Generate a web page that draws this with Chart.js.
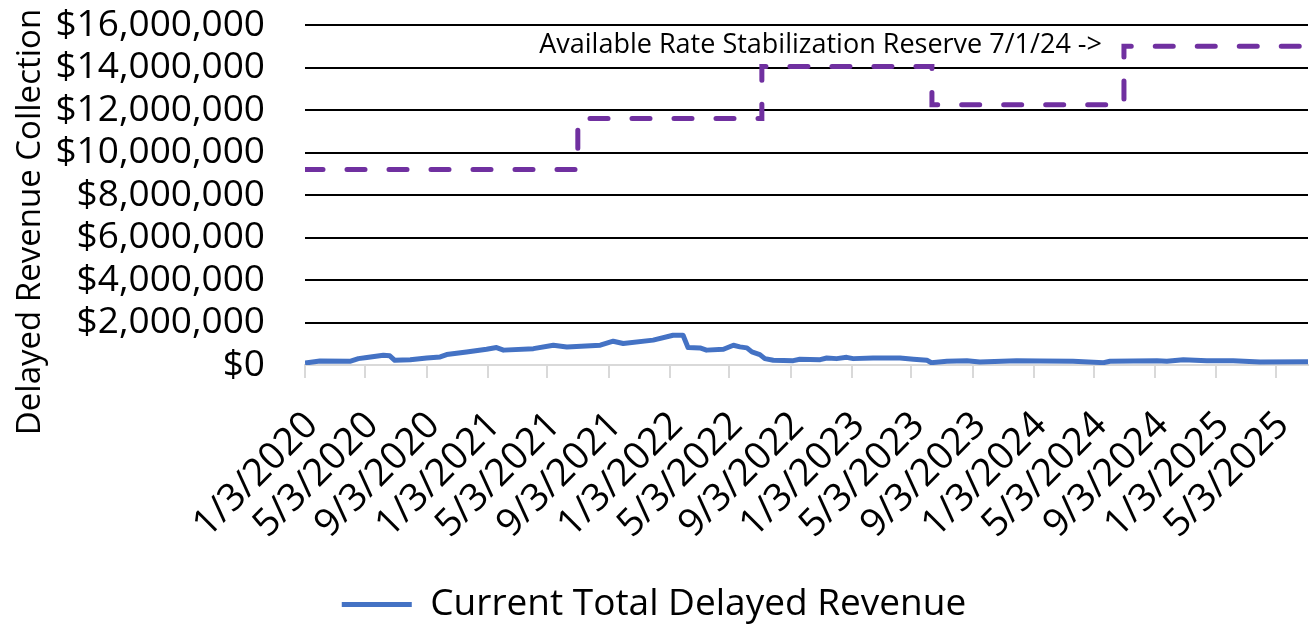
<!DOCTYPE html>
<html>
<head>
<meta charset="utf-8">
<title>Delayed Revenue Collection</title>
<script src="https://cdn.jsdelivr.net/npm/chart.js@4.4.1/dist/chart.umd.min.js"></script>
<style>
  html, body { margin: 0; padding: 0; background: #fff; }
  #wrap { width: 1315px; height: 624px; }
</style>
</head>
<body>
<div id="wrap"><canvas id="chart"></canvas></div>
<script>
// Werte (geschätzt)
const revenueDates = [
  '2020-01-03', '2020-02-02', '2020-04-02', '2020-04-19', '2020-05-06', '2020-06-08',
  '2020-06-21', '2020-07-01', '2020-08-01', '2020-09-03', '2020-09-30', '2020-10-13',
  '2020-11-22', '2021-01-01', '2021-01-21', '2021-02-04', '2021-04-05', '2021-05-15',
  '2021-06-11', '2021-08-17', '2021-09-12', '2021-10-02', '2021-12-01', '2022-01-10',
  '2022-01-30', '2022-02-09', '2022-03-05', '2022-03-18', '2022-04-21', '2022-05-11',
  '2022-05-24', '2022-06-07', '2022-06-17', '2022-07-03', '2022-07-13', '2022-07-30',
  '2022-09-08', '2022-09-21', '2022-11-01', '2022-11-14', '2022-12-04', '2022-12-24',
  '2023-01-06', '2023-02-15', '2023-04-10', '2023-05-07', '2023-06-03', '2023-06-12',
  '2023-07-13', '2023-08-22', '2023-09-17', '2023-11-30', '2024-01-16', '2024-03-22',
  '2024-05-22', '2024-06-04', '2024-09-06', '2024-09-26', '2024-10-29', '2024-12-15',
  '2025-02-06', '2025-04-01', '2025-07-06'
];
const revenueValues = [
  90000, 190000, 175000, 300000, 355000, 460000,
  430000, 220000, 250000, 330000, 380000, 490000,
  615000, 740000, 820000, 700000, 770000, 930000,
  850000, 930000, 1120000, 1010000, 1170000, 1400000,
  1400000, 820000, 805000, 700000, 740000, 930000,
  852000, 805000, 615000, 490000, 300000, 220000,
  205000, 270000, 250000, 330000, 300000, 360000,
  300000, 330000, 330000, 270000, 220000, 110000,
  175000, 205000, 140000, 205000, 190000, 175000,
  110000, 175000, 205000, 175000, 250000, 205000,
  205000, 140000, 150000
];

// Rücklage: Datum der Änderung und neuer Stand
const reserveDates = ['2020-01-03', '2021-07-03', '2022-07-07', '2023-06-13', '2024-07-02', '2025-07-06'];
const reserveValues = [9200000, 11600000, 14050000, 12250000, 15000000, 15000000];

const tickDates = [
  '2020-01-03', '2020-05-03', '2020-09-03', '2021-01-03', '2021-05-03', '2021-09-03',
  '2022-01-03', '2022-05-03', '2022-09-03', '2023-01-03', '2023-05-03', '2023-09-03',
  '2024-01-03', '2024-05-03', '2024-09-03', '2025-01-03', '2025-05-03'
];
const tickLabels = [
  '1/3/2020', '5/3/2020', '9/3/2020', '1/3/2021', '5/3/2021', '9/3/2021',
  '1/3/2022', '5/3/2022', '9/3/2022', '1/3/2023', '5/3/2023', '9/3/2023',
  '1/3/2024', '5/3/2024', '9/3/2024', '1/3/2025', '5/3/2025'
];

const reserveNote = 'Available Rate Stabilization Reserve 7/1/24 ->';
const yTitle = 'Delayed Revenue Collection';
const FONT = '"Open Sans", "Liberation Sans", sans-serif';

const START = Date.UTC(2020, 0, 3);
function dayOf(s) {
  const [y, m, d] = s.split('-').map(Number);
  return (Date.UTC(y, m - 1, d) - START) / 86400000;
}

const tickDays = tickDates.map(dayOf);

// Beschriftung + Achsentitel selbst zeichnen
const notePlugin = {
  id: 'note',
  afterDraw(chart) {
    const { ctx, scales: { x, y } } = chart;
    ctx.save();
    ctx.fillStyle = '#000';
    ctx.font = '27px ' + FONT;
    ctx.textAlign = 'right';
    ctx.textBaseline = 'middle';
    ctx.fillText(reserveNote, x.getPixelForValue(dayOf(reserveDates[4])) - 22, y.getPixelForValue(15000000) - 1);

    ctx.font = '33px ' + FONT;
    ctx.textAlign = 'center';
    ctx.translate(31, 222);
    ctx.rotate(-Math.PI / 2);
    ctx.fillText(yTitle, 0, 0);
    ctx.restore();
  }
};

const ctx = document.getElementById('chart').getContext('2d');
new Chart(ctx, {
  type: 'line',
  data: {
    datasets: [{
      label: 'Current Total Delayed Revenue',
      data: revenueDates.map((d, i) => ({ x: dayOf(d), y: revenueValues[i] })),
      borderColor: '#4472C4',
      backgroundColor: '#4472C4',
      borderWidth: 5,
      borderJoinStyle: 'round',
      pointRadius: 0,
      tension: 0,
      order: 1
    }, {
      label: 'Available Rate Stabilization Reserve',
      data: reserveDates.map((d, i) => ({ x: dayOf(d), y: reserveValues[i] })),
      borderColor: '#7030A0',
      borderWidth: 5,
      borderDash: [18, 24],
      borderCapStyle: 'round',
      stepped: 'before',
      pointRadius: 0,
      order: 2
    }]
  },
  options: {
    responsive: true,
    maintainAspectRatio: false,
    animation: false,
    devicePixelRatio: 1,
    layout: { padding: { top: 25, right: 7, left: 0, bottom: -9 } },
    scales: {
      x: {
        type: 'linear',
        min: dayOf(revenueDates[0]),
        max: dayOf(revenueDates[revenueDates.length - 1]),
        afterBuildTicks: (axis) => { axis.ticks = tickDays.map(v => ({ value: v })); },
        afterFit: (axis) => { axis.height = 221; axis.paddingLeft = 0; axis.paddingRight = 0; },
        ticks: {
          autoSkip: false,
          minRotation: 45,
          maxRotation: 45,
          padding: 25,
          labelOffset: 7,
          color: '#000',
          font: { family: FONT, size: 38 },
          callback: (v) => {
            const i = tickDays.indexOf(v);
            return i >= 0 ? tickLabels[i] : '';
          }
        },
        grid: {
          drawOnChartArea: false,
          drawTicks: true,
          tickLength: 13,
          color: '#d9d9d9',
          lineWidth: 2
        },
        border: { display: true, color: '#d9d9d9', width: 2 }
      },
      y: {
        min: 0,
        max: 16000000,
        afterFit: (axis) => { axis.width = 305; axis.paddingTop = 0; axis.paddingBottom = 0; },
        ticks: {
          stepSize: 2000000,
          autoSkip: false,
          padding: 40,
          color: '#000',
          font: { family: FONT, size: 37 },
          callback: (v) => '$' + Number(v).toLocaleString('en-US')
        },
        grid: {
          drawTicks: false,
          color: (c) => c.tick && c.tick.value === 0 ? 'rgba(0,0,0,0)' : '#000',
          lineWidth: 2
        },
        border: { display: false }
      }
    },
    plugins: {
      legend: {
        position: 'bottom',
        labels: {
          filter: (item) => item.datasetIndex === 0,
          usePointStyle: true,
          pointStyle: 'line',
          pointStyleWidth: 70,
          padding: 0,
          color: '#000',
          font: { family: FONT, size: 37 }
        }
      },
      tooltip: { enabled: false }
    }
  },
  plugins: [notePlugin]
});
</script>
</body>
</html>
